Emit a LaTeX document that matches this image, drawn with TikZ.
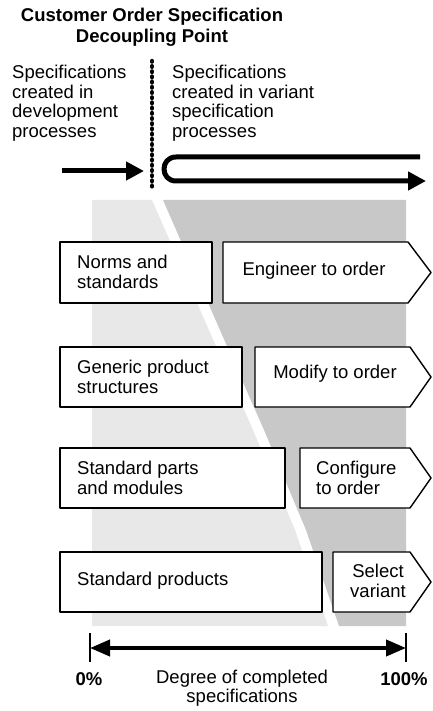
\documentclass[tikz,border=0pt]{standalone}
\usepackage{fontspec}
\setmainfont{Liberation Sans}
\usetikzlibrary{arrows.meta}
\definecolor{lightshade}{RGB}{232,232,232}
\definecolor{darkshade}{RGB}{200,200,200}
\tikzset{
  txt/.style={font=\fontsize{18.5}{19.5}\selectfont, inner sep=0pt, align=left},
  boldtxt/.style={font=\fontsize{18.5}{21}\selectfont\bfseries, inner sep=0pt, align=center},
  framebox/.style={draw=black, fill=white, line width=1.4pt, line join=round},
  thickarrow/.style={line width=5pt, -{Triangle[length=18pt,width=18pt]}},
}
\begin{document}
\begin{tikzpicture}[x=1pt, y=-1pt]
\useasboundingbox (0,0) rectangle (433,711);

% title
\node[boldtxt] (title) at (152,27) {Customer Order Specification\\Decoupling Point};

% the two kinds of specification processes
\node[txt, anchor=west] (devtext) at (12,103) {Specifications\\created in\\development\\processes};
\node[txt, anchor=west] (vartext) at (172,103) {Specifications\\created in variant\\specification\\processes};

% decoupling point (dotted divider)
\coordinate (dtop) at (152,61);
\coordinate (dbot) at (152,187);
\draw[line width=4.4pt, line cap=round, dash pattern=on 0.6pt off 4.6pt] (dtop) -- (dbot);

% incoming arrow and the U-turn arrow
\coordinate (inA) at (62,171);
\coordinate (inB) at (144,171);
\draw[thickarrow] (inA) -- (inB);
\coordinate (uA) at (420,157);
\coordinate (uB) at (176,157);
\coordinate (uC) at (176,181);
\coordinate (uD) at (426,181);
\draw[line width=5pt, line join=round, -{Triangle[length=18pt,width=18pt]}]
  (uA) -- (uB) .. controls (160,157) and (160,181) .. (uC) -- (uD);

% shaded background, split by a white diagonal stripe
\fill[lightshade] (92,200) -- (152,200) -- (212,337) -- (253,430) -- (295,530) -- (328,626) -- (92,626) -- cycle;
\fill[darkshade] (163,200) -- (406,200) -- (406,626) -- (339,626) -- (306,530) -- (264,430) -- (223,337) -- cycle;

% row 1
\draw[framebox] (60,242) rectangle (212,303);
\node[txt, anchor=west] (norms) at (77,272) {Norms and\\standards};
\draw[framebox] (223,242) -- (408,242) -- (431,272.5) -- (408,303) -- (223,303) -- cycle;
\node[txt] (eto) at (314,271) {Engineer to order};

% row 2
\draw[framebox] (60,347) rectangle (242,407);
\node[txt, anchor=west] (generic) at (77,377) {Generic product\\structures};
\draw[framebox] (255,347) -- (410,347) -- (431,377) -- (410,407) -- (255,407) -- cycle;
\node[txt] (mto) at (335,374) {Modify to order};

% row 3
\draw[framebox] (60,448) rectangle (285,508);
\node[txt, anchor=west] (parts) at (77,478) {Standard parts\\and modules};
\draw[framebox] (300,448) -- (410,448) -- (431,478) -- (410,508) -- (300,508) -- cycle;
\node[txt, anchor=west] (cto) at (316,478) {Configure\\to order};

% row 4
\draw[framebox] (60,552) rectangle (322,612);
\node[txt, anchor=west] (products) at (77,581) {Standard products};
\draw[framebox] (333,552) -- (410,552) -- (431,582) -- (410,612) -- (333,612) -- cycle;
\node[txt, align=center] (select) at (378,581) {Select\\variant};

% degree scale
\coordinate (s0) at (90,648);
\coordinate (s1) at (406,648);
\coordinate (t0a) at (90,633);
\coordinate (t0b) at (90,662);
\coordinate (t1a) at (406,633);
\coordinate (t1b) at (406,662);
\draw[line width=1.5pt] (t0a) -- (t0b);
\draw[line width=1.5pt] (t1a) -- (t1b);
\draw[line width=4pt, {Triangle[length=20pt,width=16pt]}-{Triangle[length=20pt,width=16pt]}] (s0) -- (s1);
\node[boldtxt] (zero) at (89,679) {0\%};
\node[boldtxt] (hundred) at (404,679) {100\%};
\node[txt, align=center] (degree) at (242,688) {Degree of completed\\specifications};
\end{tikzpicture}
\end{document}
